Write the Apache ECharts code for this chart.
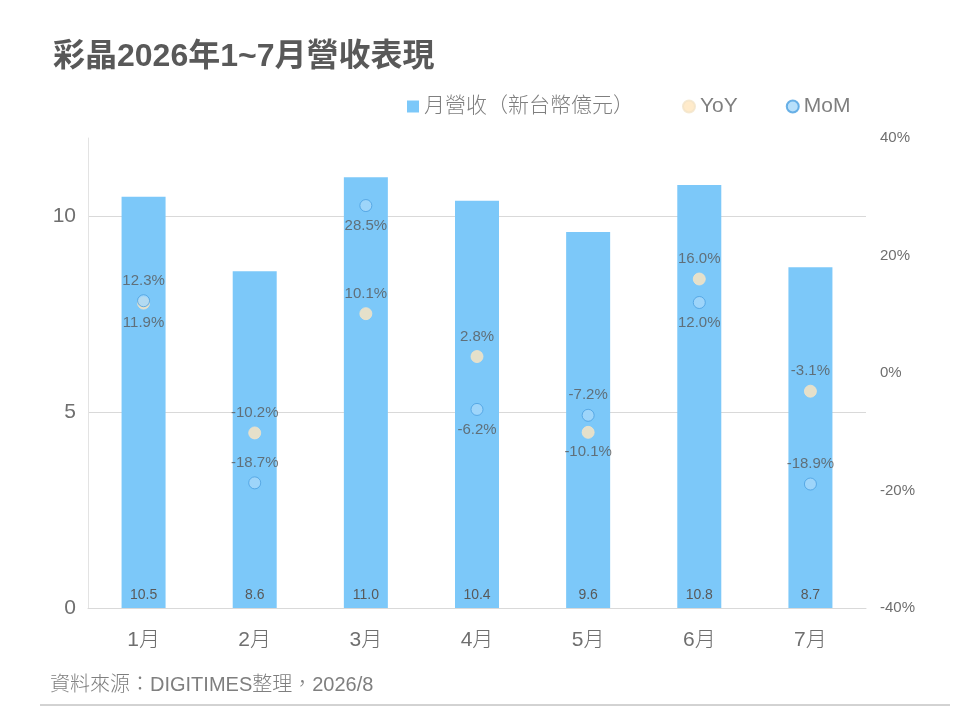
<!DOCTYPE html>
<html>
<head>
<meta charset="utf-8">
<script src="https://cdn.jsdelivr.net/npm/echarts@6/dist/echarts.min.js"></script>
<style>
  html, body { margin: 0; padding: 0; background: #fff; }
  #main { width: 960px; height: 720px; }
</style>
</head>
<body>
<div id="main"></div>
<script>
var months = ['1月', '2月', '3月', '4月', '5月', '6月', '7月'];
var revenue = [10.5, 8.6, 11.0, 10.4, 9.6, 10.8, 8.7];
var yoy = [11.9, -10.2, 10.1, 2.8, -10.1, 16.0, -3.1];
var mom = [12.3, -18.7, 28.5, -6.2, -7.2, 12.0, -18.9];
var leftTicks = [0, 5, 10];
var rightTicks = [-40, -20, 0, 20, 40];
// which side each percent label sits on
var yoyLabelSide = ['bottom', 'top', 'top', 'top', 'bottom', 'top', 'top'];
var momLabelSide = ['top', 'top', 'bottom', 'bottom', 'top', 'bottom', 'top'];

var fontFam = '"Liberation Sans", "Noto Sans CJK TC", sans-serif';

function pctData(vals, sides) {
    var out = [];
    for (var i = 0; i < vals.length; i++) {
        out.push({
            value: vals[i],
            label: { position: sides[i] }
        });
    }
    return out;
}

var chart = echarts.init(document.getElementById('main'));

var option = {
    backgroundColor: '#fff',
    animation: false,
    textStyle: { fontFamily: fontFam },
    title: {
        text: '彩晶2026年1~7月營收表現',
        left: 48,
        top: 36,
        textStyle: { fontSize: 32, fontWeight: 'bold', color: '#595959', fontFamily: fontFam }
    },
    legend: {
        top: 91,
        left: 402,
        itemGap: 48,
        itemWidth: 12,
        itemHeight: 12,
        textStyle: { fontSize: 21, color: '#7f7f7f', fontFamily: fontFam, fontWeight: 300 },
        data: [
            { name: '月營收（新台幣億元）', icon: 'rect' },
            { name: 'YoY', icon: 'circle' },
            { name: 'MoM', icon: 'circle' }
        ]
    },
    grid: { left: 88, right: 94, top: 138, bottom: 112 },
    xAxis: {
        type: 'category',
        data: months,
        axisLine: { lineStyle: { color: '#d9d9d9' } },
        axisTick: { show: false },
        axisLabel: { fontSize: 21, color: '#6f6f6f', margin: 22, fontWeight: 300 }
    },
    yAxis: [{
        type: 'value',
        min: 0,
        max: 12,
        interval: 5,
        axisLine: { show: true, lineStyle: { color: '#e3e3e3' } },
        axisTick: { show: false },
        splitLine: { show: false },
        axisLabel: {
            fontSize: 21,
            color: '#6f6f6f',
            margin: 12,
            formatter: function (v) { return leftTicks.indexOf(v) >= 0 ? v : ''; }
        }
    }, {
        type: 'value',
        min: -40,
        max: 40,
        interval: 20,
        axisLine: { show: false },
        axisTick: { show: false },
        splitLine: { show: false },
        axisLabel: {
            fontSize: 15,
            color: '#6f6f6f',
            margin: 14,
            formatter: function (v) { return rightTicks.indexOf(v) >= 0 ? v + '%' : ''; }
        }
    }],
    series: [{
        name: '月營收（新台幣億元）',
        type: 'bar',
        barWidth: 44,
        itemStyle: { color: '#7CC8F9' },
        label: {
            show: true,
            position: 'insideBottom',
            distance: 6,
            fontSize: 14,
            color: '#595959',
            formatter: function (p) { return p.value.toFixed(1); }
        },
        markLine: {
            silent: true,
            symbol: 'none',
            label: { show: false },
            lineStyle: { color: '#d9d9d9', type: 'solid', width: 1 },
            z: 0,
            data: [{ yAxis: 5 }, { yAxis: 10 }]
        },
        data: revenue
    }, {
        name: 'YoY',
        type: 'scatter',
        yAxisIndex: 1,
        symbolSize: 12,
        itemStyle: { color: '#FFE6BE', borderColor: '#f3e3c8', borderWidth: 1 },
        label: {
            show: true,
            fontSize: 15,
            color: '#595959',
            distance: 6,
            formatter: function (p) { return p.value.toFixed(1) + '%'; }
        },
        data: pctData(yoy, yoyLabelSide)
    }, {
        name: 'MoM',
        type: 'scatter',
        yAxisIndex: 1,
        symbolSize: 12,
        itemStyle: { color: '#A6D8FA', borderColor: '#4A9FE0', borderWidth: 1 },
        label: {
            show: true,
            fontSize: 15,
            color: '#595959',
            distance: 6,
            formatter: function (p) { return p.value.toFixed(1) + '%'; }
        },
        data: pctData(mom, momLabelSide)
    }],
    graphic: [{
        type: 'text',
        left: 50,
        top: 675,
        style: { text: '資料來源：DIGITIMES整理，2026/8', fontSize: 20, fill: '#7f7f7f', fontFamily: fontFam, fontWeight: 300 }
    }, {
        type: 'line',
        shape: { x1: 40, y1: 705, x2: 950, y2: 705 },
        style: { stroke: '#a6a6a6', lineWidth: 1 }
    }]
};

chart.setOption(option);
</script>
</body>
</html>
